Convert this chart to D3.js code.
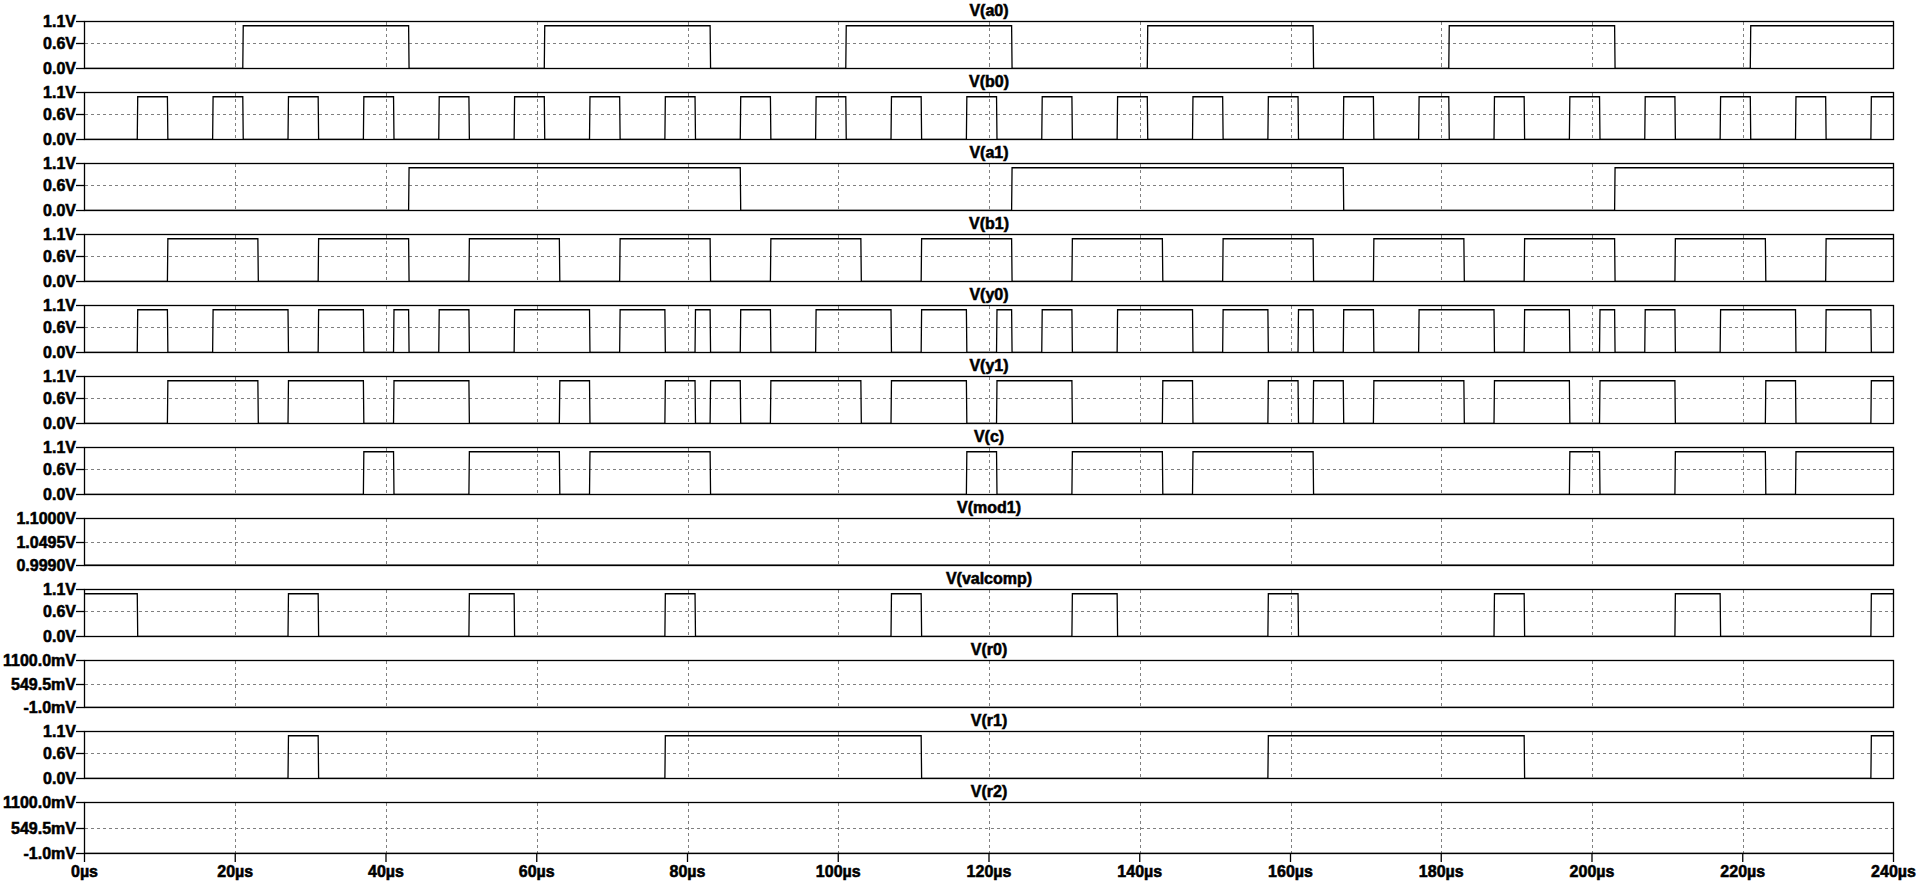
<!DOCTYPE html>
<html><head><meta charset="utf-8">
<script src="https://cdn.jsdelivr.net/npm/d3@7"></script>
<style>
body{margin:0;background:#fff;}
text{font-family:"Liberation Sans",Arial,sans-serif;font-weight:bold;font-size:16px;fill:#000;stroke:#000;stroke-width:0.55px;}
</style>
</head><body>
<svg id="chart" width="1917" height="885"></svg>
<script>
// ---------- data ----------
const timeDomain = [0, 240];
const timeTicks = [0, 20, 40, 60, 80, 100, 120, 140, 160, 180, 200, 220, 240];
const timeTickLabels = ["0µs","20µs","40µs","60µs","80µs","100µs","120µs","140µs","160µs","180µs","200µs","220µs","240µs"];

const panelNames = ["V(a0)","V(b0)","V(a1)","V(b1)","V(y0)","V(y1)","V(c)","V(mod1)","V(valcomp)","V(r0)","V(r1)","V(r2)"];

const stdDomain = [0, 1.1];
const stdTicks = [1.1, 0.6, 0.0];
const stdTickLabels = ["1.1V","0.6V","0.0V"];
const mod1Domain = [0.999, 1.1];
const mod1Ticks = [1.1, 1.0495, 0.999];
const mod1TickLabels = ["1.1000V","1.0495V","0.9990V"];
const mvDomain = [-0.001, 1.1];
const mvTicks = [1.1, 0.5495, -0.001];
const mvTickLabels = ["1100.0mV","549.5mV","-1.0mV"];

const highLevel = 1.0;
const lowLevel = 0.0;

// high intervals [start µs, end µs]
const a0High = [[21,43],[61,83],[101,123],[141,163],[181,203],[221,240]];
const b0High = [[7,11],[17,21],[27,31],[37,41],[47,51],[57,61],[67,71],[77,81],[87,91],[97,101],[107,111],[117,121],
                [127,131],[137,141],[147,151],[157,161],[167,171],[177,181],[187,191],[197,201],[207,211],[217,221],[227,231],[237,240]];
const a1High = [[43,87],[123,167],[203,240]];
const b1High = [[11,23],[31,43],[51,63],[71,83],[91,103],[111,123],[131,143],[151,163],[171,183],[191,203],[211,223],[231,240]];
const y0High = [[7,11],[17,27],[31,37],[41,43],[47,51],[57,67],[71,77],[81,83],[87,91],[97,107],[111,117],[121,123],
                [127,131],[137,147],[151,157],[161,163],[167,171],[177,187],[191,197],[201,203],[207,211],[217,227],[231,237]];
const y1High = [[11,23],[27,37],[41,51],[63,67],[77,81],[83,87],[91,103],[107,117],[121,131],[143,147],[157,161],
                [163,167],[171,183],[187,197],[201,211],[223,227],[237,240]];
const cHigh = [[37,41],[51,63],[67,83],[117,121],[131,143],[147,163],[197,201],[211,223],[227,240]];
const valcompHigh = [[0,7],[27,31],[51,57],[77,81],[107,111],[131,137],[157,161],[187,191],[211,217],[237,240]];
const r1High = [[27,31],[77,111],[157,191],[237,240]];
const mod1Level = [1.0];
const r0Level = [0.0];
const r2Level = [0.0];

// ---------- layout ----------
const svg = d3.select("#chart");
const W = 1917, H = 885;
const left = 84.5, right = 1893.5;
const firstTop = 21.5, pitch = 71, panelH = 47, lastPanelH = 51;
const edge = 0.06; // transition time (µs)

const x = d3.scaleLinear().domain(timeDomain).range([left, right]);

function pulsePoints(intervals) {
  const pts = [];
  const t0 = timeDomain[0], t1 = timeDomain[1];
  if (intervals.length && intervals[0][0] <= t0) pts.push([t0, highLevel]); else pts.push([t0, lowLevel]);
  intervals.forEach(([s, e]) => {
    if (s > t0) { pts.push([s, lowLevel]); pts.push([s + edge, highLevel]); }
    if (e < t1) { pts.push([e, highLevel]); pts.push([e + edge, lowLevel]); }
    else pts.push([t1, highLevel]);
  });
  const last = pts[pts.length - 1];
  if (last[0] < t1) pts.push([t1, lowLevel]);
  return pts;
}
function constPoints(level) { return [[timeDomain[0], level[0]], [timeDomain[1], level[0]]]; }

const panels = [
  {name: panelNames[0], dom: stdDomain, ticks: stdTicks, labels: stdTickLabels, pts: pulsePoints(a0High)},
  {name: panelNames[1], dom: stdDomain, ticks: stdTicks, labels: stdTickLabels, pts: pulsePoints(b0High)},
  {name: panelNames[2], dom: stdDomain, ticks: stdTicks, labels: stdTickLabels, pts: pulsePoints(a1High)},
  {name: panelNames[3], dom: stdDomain, ticks: stdTicks, labels: stdTickLabels, pts: pulsePoints(b1High)},
  {name: panelNames[4], dom: stdDomain, ticks: stdTicks, labels: stdTickLabels, pts: pulsePoints(y0High)},
  {name: panelNames[5], dom: stdDomain, ticks: stdTicks, labels: stdTickLabels, pts: pulsePoints(y1High)},
  {name: panelNames[6], dom: stdDomain, ticks: stdTicks, labels: stdTickLabels, pts: pulsePoints(cHigh)},
  {name: panelNames[7], dom: mod1Domain, ticks: mod1Ticks, labels: mod1TickLabels, pts: constPoints(mod1Level)},
  {name: panelNames[8], dom: stdDomain, ticks: stdTicks, labels: stdTickLabels, pts: pulsePoints(valcompHigh)},
  {name: panelNames[9], dom: mvDomain, ticks: mvTicks, labels: mvTickLabels, pts: constPoints(r0Level)},
  {name: panelNames[10], dom: stdDomain, ticks: stdTicks, labels: stdTickLabels, pts: pulsePoints(r1High)},
  {name: panelNames[11], dom: mvDomain, ticks: mvTicks, labels: mvTickLabels, pts: constPoints(r2Level)}
];

svg.append("rect").attr("width", W).attr("height", H).attr("fill", "#fff");
const defs = svg.append("defs");

panels.forEach((p, i) => {
  const top = firstTop + i * pitch;
  const h = (i === panels.length - 1) ? lastPanelH : panelH;
  const bottom = top + h;
  const y = d3.scaleLinear().domain(p.dom).range([bottom, top]);
  const g = svg.append("g");

  defs.append("clipPath").attr("id", "clip" + i)
    .append("rect").attr("x", left).attr("y", top - 0.5).attr("width", right - left).attr("height", h + 1);

  // grid
  const grid = g.append("g").attr("stroke", "#808080").attr("stroke-width", 1)
    .attr("stroke-dasharray", "3,3").attr("shape-rendering", "crispEdges");
  timeTicks.filter(t => t > timeDomain[0] && t < timeDomain[1]).forEach(t => {
    grid.append("line").attr("x1", Math.round(x(t)) + 0.5).attr("x2", Math.round(x(t)) + 0.5)
      .attr("y1", top).attr("y2", bottom);
  });
  grid.append("line").attr("x1", left).attr("x2", right)
    .attr("y1", Math.round(y(p.ticks[1])) + 0.5).attr("y2", Math.round(y(p.ticks[1])) + 0.5);

  // trace
  g.append("path").datum(p.pts)
    .attr("clip-path", "url(#clip" + i + ")")
    .attr("fill", "none").attr("stroke", "#000").attr("stroke-width", 1.3)
    .attr("d", d3.line().x(d => x(d[0])).y(d => y(d[1])));

  // border
  g.append("rect").attr("x", left).attr("y", top).attr("width", right - left).attr("height", h)
    .attr("fill", "none").attr("stroke", "#000").attr("stroke-width", 1.3);

  // y axis ticks + labels
  p.ticks.forEach((v, k) => {
    const yy = k === 0 ? top : (k === 2 ? bottom : Math.round(y(v)) + 0.5);
    g.append("line").attr("x1", 76).attr("x2", left).attr("y1", yy).attr("y2", yy)
      .attr("stroke", "#000").attr("stroke-width", 1.3);
    g.append("text").attr("x", 76).attr("y", yy + 5.6).attr("text-anchor", "end").text(p.labels[k]);
  });

  // title
  g.append("text").attr("x", (left + right) / 2).attr("y", top - 6)
    .attr("text-anchor", "middle").text(p.name);

  // x-axis on last panel
  if (i === panels.length - 1) {
    const ax = svg.append("g");
    timeTicks.forEach((t, k) => {
      ax.append("line").attr("x1", x(t)).attr("x2", x(t)).attr("y1", bottom).attr("y2", bottom + 8.5)
        .attr("stroke", "#000").attr("stroke-width", 1.3);
      ax.append("text").attr("x", x(t)).attr("y", bottom + 23.5).attr("text-anchor", "middle").text(timeTickLabels[k]);
    });
  }
});
</script>
</body></html>
